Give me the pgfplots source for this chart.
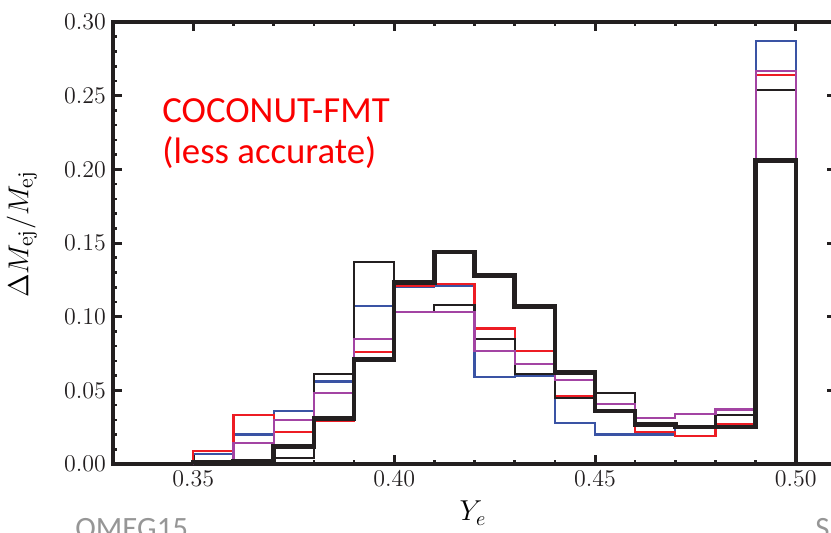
\documentclass[border=0pt]{standalone}
\usepackage{fontspec}
\usepackage{pgfplots}
\usepackage{pgfplotstable}
\pgfplotsset{compat=1.18}
\newfontfamily\carlito{Carlito}
\definecolor{cred}{RGB}{237,28,36}
\definecolor{ctext}{RGB}{250,0,0}
\definecolor{cblue}{RGB}{58,83,164}
\definecolor{cpurple}{RGB}{163,68,163}
\definecolor{cblack}{RGB}{35,31,32}
\definecolor{cgray}{RGB}{150,150,150}

\pgfplotstableread{
x      thick  thin   red    blue   purple
0.35   0      0      0      0      0
0.35   0.001  0.000  0.009  0.007  0.000
0.36   0.002  0.000  0.033  0.020  0.014
0.37   0.012  0.004  0.022  0.036  0.030
0.38   0.031  0.061  0.029  0.056  0.048
0.39   0.071  0.137  0.076  0.107  0.085
0.40   0.123  0.103  0.121  0.120  0.103
0.41   0.144  0.108  0.122  0.121  0.103
0.42   0.128  0.085  0.092  0.059  0.077
0.43   0.107  0.061  0.077  0.060  0.068
0.44   0.062  0.045  0.046  0.028  0.057
0.45   0.036  0.048  0.036  0.020  0.041
0.46   0.027  0.027  0.022  0.020  0.031
0.47   0.025  0.025  0.019  0.026  0.034
0.48   0.025  0.033  0.027  0.027  0.037
0.49   0.206  0.254  0.264  0.287  0.267
0.50   0      0      0      0      0
}\datatable

\begin{document}
\begin{tikzpicture}
\path[use as bounding box] (-56.5pt,-34pt) rectangle (359pt,232pt);
\begin{axis}[
  at={(0,0)}, anchor=south west,
  scale only axis, width=361.5pt, height=221pt,
  xmin=0.33, xmax=0.51, ymin=0, ymax=0.30,
  clip=false,
  xtick={0.35,0.40,0.45,0.50},
  ytick={0,0.05,0.10,0.15,0.20,0.25,0.30},
  minor x tick num=4, minor y tick num=4,
  tick align=inside,
  xticklabel style={/pgf/number format/.cd, fixed, fixed zerofill, precision=2},
  yticklabel style={/pgf/number format/.cd, fixed, fixed zerofill, precision=2},
  scaled y ticks=false, scaled x ticks=false,
  tick label style={font=\fontsize{13}{15}\selectfont, text=cblack},
  axis line style={line width=2pt, cblack},
  major tick length=4.5pt, minor tick length=2.2pt,
  major tick style={line width=1.5pt, cblack},
  minor tick style={line width=1.3pt, cblack},
  xlabel={$Y_e$},
  ylabel={$\Delta M_{\mathrm{ej}}/M_{\mathrm{ej}}$},
  every axis x label/.style={at={(axis description cs:0.498,-0.111)}, anchor=center, font=\fontsize{14}{17}\selectfont},
  every axis y label/.style={at={(axis description cs:-0.126,0.52)}, rotate=90, anchor=center, font=\fontsize{15.5}{18}\selectfont},
]
\addplot[const plot mark left, cblue, line width=1.05pt, line join=miter] table[x=x, y=blue] {\datatable};
\addplot[const plot mark left, cred, line width=1.05pt, line join=miter] table[x=x, y=red] {\datatable};
\addplot[const plot mark left, cblack, line width=1.05pt, line join=miter] table[x=x, y=thin] {\datatable};
\addplot[const plot mark left, cpurple, line width=1.05pt, line join=miter] table[x=x, y=purple] {\datatable};
\addplot[const plot mark left, cblack, line width=2.3pt, line join=miter] table[x=x, y=thick] {\datatable};
\node[anchor=base west, inner sep=0, text=ctext, font=\carlito\fontsize{18.4}{20}\selectfont] at (axis cs:0.3422,0.2321) {COCONUT-FMT};
\node[anchor=base west, inner sep=0, text=ctext, font=\carlito\fontsize{18.4}{20}\selectfont] at (axis cs:0.3422,0.2043) {(less accurate)};
\end{axis}
\node[anchor=base west, inner sep=0, text=cgray, font=\carlito\fontsize{15.5}{18}\selectfont] at (-19pt,-37pt) {OMEG15};
\node[anchor=base west, inner sep=0, text=cgray, font=\carlito\fontsize{15.5}{18}\selectfont] at (351pt,-37pt) {S};
\end{tikzpicture}
\end{document}
